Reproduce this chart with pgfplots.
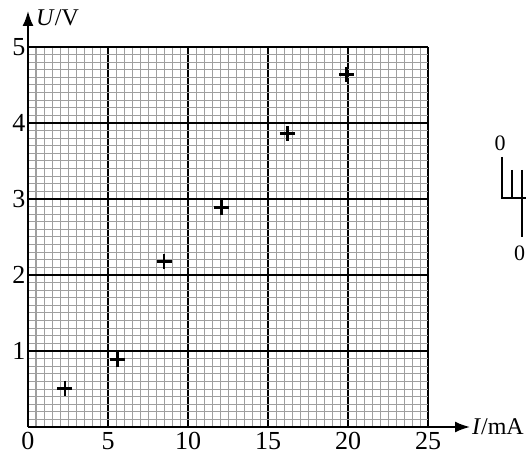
\documentclass[border=0pt]{standalone}
\usepackage{fontspec}
\setmainfont{Liberation Serif}
\usepackage{pgfplots}
\pgfplotsset{compat=1.18}
\usetikzlibrary{arrows.meta}
\begin{document}
\begin{tikzpicture}
\path[use as bounding box] (-28pt,-27pt) rectangle (498pt,427pt);
\begin{axis}[
  anchor=origin, at={(0pt,0pt)},
  scale only axis, width=400pt, height=380pt,
  xmin=0, xmax=25, ymin=0, ymax=5,
  enlargelimits=false,
  axis x line=bottom, axis y line=left,
  axis line style={line width=2pt, -{Latex[length=15pt,width=11pt]}},
  x axis line style={shorten >=-42pt},
  y axis line style={shorten >=-36pt},
  xtick={0,5,10,15,20,25}, ytick={0,1,2,3,4,5},
  yticklabels={,1,2,3,4,5},
  minor x tick num=9, minor y tick num=9,
  major tick length=0pt, minor tick length=0pt,
  grid=both,
  major grid style={black, line width=1.5pt},
  minor grid style={gray!75, line width=1pt},
  /pgf/number format/assume math mode=true,
  tick label style={font=\fontsize{26}{30}\selectfont},
  xticklabel style={yshift=-2pt},
  yticklabel style={xshift=1pt},
  clip=false,
]
\addplot[only marks, mark=+, mark size=7.5pt, line width=2.6pt, black]
  coordinates {(2.3,0.51) (5.6,0.89) (8.5,2.18) (12.1,2.89) (16.2,3.86) (19.9,4.64)};
\node[anchor=west, inner sep=0pt, font=\fontsize{24}{28}\selectfont] at (rel axis cs:1,0) [xshift=44pt] {\textit{I}/mA};
\node[anchor=west, inner sep=0pt, font=\fontsize{24}{28}\selectfont] at (rel axis cs:0,1) [xshift=8pt, yshift=29pt] {\textit{U}/V};
\end{axis}
% cropped fragment of a neighbouring figure at the right edge
\begin{scope}[line width=1.6pt]
\draw (474pt,270pt) -- (474pt,229pt) -- (498pt,229pt);
\draw (484pt,257pt) -- (484pt,229pt);
\draw (494pt,257pt) -- (494pt,190pt);
\end{scope}
\node[font=\fontsize{22}{26}\selectfont, inner sep=0pt] at (472pt,284pt) {0};
\node[font=\fontsize{22}{26}\selectfont, inner sep=0pt, anchor=west] at (486pt,174pt) {0};
\end{tikzpicture}
\end{document}
